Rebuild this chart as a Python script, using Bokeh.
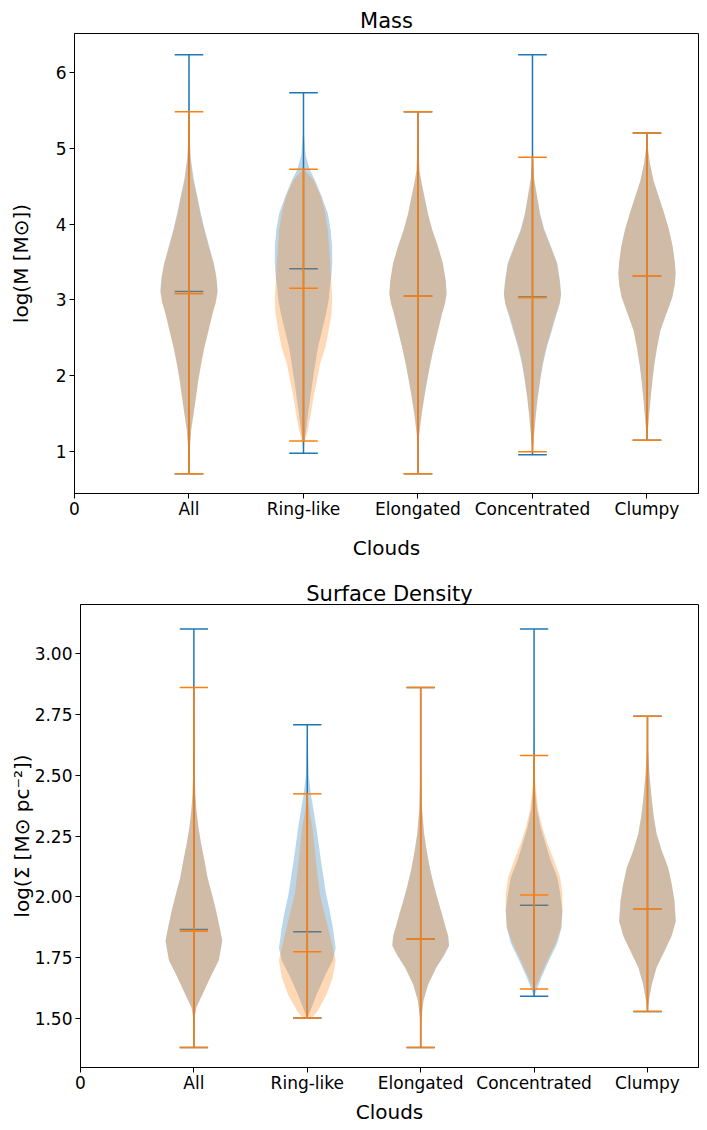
from bokeh.plotting import figure
from bokeh.models import FixedTicker, Range1d, Title
from bokeh.embed import file_html
from bokeh.resources import INLINE

# ---------------- data ----------------
categories = ["All", "Ring-like", "Elongated", "Concentrated", "Clumpy"]
x_tick_labels = ["0", "All", "Ring-like", "Elongated", "Concentrated", "Clumpy"]

# Mass panel: min / max / median per category
mass_blue_min = [0.71, 0.98, 0.71, 0.96, 1.15]
mass_blue_max = [6.23, 5.73, 5.48, 6.23, 5.20]
mass_blue_med = [3.11, 3.41, 3.05, 3.04, 3.32]
mass_orange_min = [0.71, 1.14, 0.71, 1.00, 1.15]
mass_orange_max = [5.48, 4.72, 5.48, 4.88, 5.20]
mass_orange_med = [3.08, 3.155, 3.05, 3.03, 3.32]

# Mass panel: violin outlines (value, relative half-width)
mass_blue_shape = [
    [(0.71, 0), (1.0, 0.02), (1.3, 0.08), (1.5, 0.16), (1.72, 0.24), (1.94, 0.32), (2.16, 0.42),
     (2.37, 0.53), (2.6, 0.68), (2.82, 0.82), (2.97, 0.93), (3.12, 1.0), (3.3, 0.96), (3.48, 0.87),
     (3.7, 0.71), (3.92, 0.55), (4.13, 0.42), (4.35, 0.3), (4.6, 0.16), (4.88, 0.06), (5.2, 0.015),
     (6.23, 0)],
    [(0.98, 0), (1.14, 0.04), (1.5, 0.16), (1.94, 0.32), (2.37, 0.5), (2.6, 0.65), (2.82, 0.79),
     (3.0, 0.88), (3.17, 0.92), (3.3, 0.97), (3.48, 1.0), (3.7, 1.0), (3.92, 0.95), (4.14, 0.85),
     (4.36, 0.64), (4.58, 0.4), (4.71, 0.23), (4.9, 0.08), (5.23, 0.01), (5.73, 0)],
    [(0.71, 0), (1.0, 0.01), (1.19, 0.03), (1.5, 0.13), (1.72, 0.22), (1.94, 0.32), (2.16, 0.43),
     (2.37, 0.55), (2.6, 0.7), (2.82, 0.84), (2.95, 0.94), (3.08, 1.0), (3.25, 0.97), (3.48, 0.87),
     (3.7, 0.7), (3.92, 0.5), (4.13, 0.35), (4.35, 0.23), (4.55, 0.12), (4.71, 0.05), (5.1, 0.01),
     (5.48, 0)],
    [(0.96, 0), (1.2, 0.05), (1.5, 0.12), (1.72, 0.19), (1.94, 0.27), (2.16, 0.37), (2.37, 0.5),
     (2.6, 0.68), (2.82, 0.85), (2.95, 0.95), (3.08, 1.0), (3.25, 0.96), (3.48, 0.87), (3.7, 0.65),
     (3.92, 0.42), (4.13, 0.27), (4.35, 0.17), (4.6, 0.06), (5.0, 0.01), (6.23, 0)],
    [(1.15, 0), (1.28, 0.03), (1.5, 0.08), (1.72, 0.13), (1.94, 0.19), (2.16, 0.26), (2.37, 0.35),
     (2.6, 0.47), (2.82, 0.68), (3.03, 0.88), (3.2, 0.97), (3.35, 1.0), (3.5, 0.97), (3.70, 0.9),
     (3.92, 0.77), (4.13, 0.61), (4.35, 0.42), (4.57, 0.23), (4.8, 0.1), (5.0, 0.03), (5.20, 0)],
]
mass_orange_shape = [
    [(0.71, 0), (1.0, 0.02), (1.3, 0.08), (1.5, 0.16), (1.72, 0.25), (1.94, 0.33), (2.16, 0.43),
     (2.37, 0.54), (2.6, 0.69), (2.82, 0.83), (2.96, 0.94), (3.10, 1.0), (3.3, 0.95), (3.48, 0.86),
     (3.7, 0.69), (3.92, 0.53), (4.13, 0.4), (4.35, 0.28), (4.6, 0.14), (4.85, 0.05), (5.48, 0)],
    [(1.14, 0.05), (1.28, 0.15), (1.5, 0.26), (1.72, 0.35), (1.94, 0.47), (2.16, 0.58), (2.37, 0.76),
     (2.6, 0.88), (2.82, 0.98), (3.04, 1.0), (3.48, 0.93), (3.92, 0.85), (4.14, 0.76), (4.36, 0.61),
     (4.58, 0.35), (4.72, 0)],
    [(0.71, 0), (1.0, 0.01), (1.19, 0.03), (1.5, 0.13), (1.72, 0.22), (1.94, 0.32), (2.16, 0.43),
     (2.37, 0.55), (2.6, 0.7), (2.82, 0.84), (2.95, 0.94), (3.08, 1.0), (3.25, 0.97), (3.48, 0.87),
     (3.7, 0.7), (3.92, 0.5), (4.13, 0.35), (4.35, 0.23), (4.55, 0.12), (4.71, 0.05), (5.1, 0.01),
     (5.48, 0)],
    [(1.0, 0), (1.2, 0.05), (1.5, 0.12), (1.72, 0.18), (1.94, 0.26), (2.16, 0.35), (2.37, 0.47),
     (2.6, 0.65), (2.82, 0.82), (2.94, 0.94), (3.06, 1.0), (3.25, 0.95), (3.48, 0.85), (3.7, 0.63),
     (3.92, 0.4), (4.13, 0.26), (4.35, 0.16), (4.6, 0.05), (4.88, 0)],
    [(1.15, 0), (1.28, 0.03), (1.5, 0.08), (1.72, 0.13), (1.94, 0.19), (2.16, 0.26), (2.37, 0.35),
     (2.6, 0.47), (2.82, 0.68), (3.03, 0.88), (3.2, 0.97), (3.35, 1.0), (3.5, 0.97), (3.70, 0.9),
     (3.92, 0.77), (4.13, 0.61), (4.35, 0.42), (4.57, 0.23), (4.8, 0.1), (5.0, 0.03), (5.20, 0)],
]

# Surface density panel
sd_blue_min = [1.382, 1.503, 1.382, 1.592, 1.530]
sd_blue_max = [3.099, 2.707, 2.859, 3.099, 2.741]
sd_blue_med = [1.866, 1.857, 1.827, 1.966, 1.949]
sd_orange_min = [1.382, 1.503, 1.382, 1.622, 1.530]
sd_orange_max = [2.859, 2.423, 2.859, 2.580, 2.741]
sd_orange_med = [1.859, 1.775, 1.827, 2.008, 1.949]

sd_blue_shape = [
    [(1.382, 0), (1.50, 0.02), (1.545, 0.08), (1.60, 0.3), (1.67, 0.58), (1.74, 0.88), (1.82, 1.0),
     (1.88, 0.9), (1.944, 0.78), (2.013, 0.63), (2.08, 0.48), (2.15, 0.37), (2.22, 0.25),
     (2.285, 0.16), (2.355, 0.09), (2.42, 0.05), (2.49, 0.03), (2.65, 0.01), (3.099, 0)],
    [(1.503, 0), (1.53, 0.1), (1.60, 0.33), (1.67, 0.6), (1.74, 0.9), (1.79, 1.0), (1.875, 0.9),
     (1.944, 0.79), (2.013, 0.66), (2.15, 0.48), (2.285, 0.32), (2.42, 0.13), (2.5, 0.05), (2.707, 0)],
    [(1.382, 0), (1.50, 0.02), (1.575, 0.1), (1.64, 0.26), (1.71, 0.55), (1.76, 0.82), (1.80, 1.0),
     (1.84, 0.97), (1.875, 0.88), (1.93, 0.75), (1.985, 0.61), (2.05, 0.46), (2.12, 0.32),
     (2.19, 0.21), (2.26, 0.12), (2.37, 0.04), (2.55, 0.01), (2.859, 0)],
    [(1.592, 0), (1.62, 0.1), (1.67, 0.26), (1.74, 0.53), (1.81, 0.82), (1.875, 0.97), (1.944, 1.0),
     (2.013, 0.92), (2.08, 0.82), (2.15, 0.58), (2.22, 0.4), (2.285, 0.23), (2.36, 0.1), (2.45, 0.03),
     (2.7, 0.005), (3.099, 0)],
    [(1.530, 0), (1.575, 0.05), (1.64, 0.15), (1.71, 0.32), (1.78, 0.61), (1.84, 0.85), (1.90, 1.0),
     (1.985, 0.95), (2.05, 0.86), (2.12, 0.73), (2.19, 0.5), (2.26, 0.32), (2.33, 0.22), (2.40, 0.15),
     (2.50, 0.07), (2.60, 0.02), (2.741, 0)],
]
sd_orange_shape = [
    [(1.382, 0), (1.50, 0.02), (1.545, 0.08), (1.60, 0.3), (1.67, 0.58), (1.74, 0.88), (1.82, 1.0),
     (1.88, 0.9), (1.944, 0.78), (2.013, 0.63), (2.08, 0.48), (2.15, 0.37), (2.22, 0.25),
     (2.285, 0.16), (2.355, 0.09), (2.42, 0.05), (2.49, 0.03), (2.65, 0.01), (2.859, 0)],
    [(1.503, 0.15), (1.53, 0.35), (1.60, 0.68), (1.67, 0.9), (1.74, 1.0), (1.79, 0.9), (1.875, 0.73),
     (2.013, 0.44), (2.15, 0.3), (2.285, 0.18), (2.35, 0.08), (2.423, 0)],
    [(1.382, 0), (1.50, 0.02), (1.575, 0.1), (1.64, 0.26), (1.71, 0.55), (1.76, 0.82), (1.80, 1.0),
     (1.84, 0.97), (1.875, 0.88), (1.93, 0.75), (1.985, 0.61), (2.05, 0.46), (2.12, 0.32),
     (2.19, 0.21), (2.26, 0.12), (2.37, 0.04), (2.55, 0.01), (2.859, 0)],
    [(1.622, 0), (1.63, 0.05), (1.67, 0.2), (1.74, 0.47), (1.81, 0.76), (1.875, 0.95), (1.944, 1.0),
     (2.013, 1.0), (2.08, 0.92), (2.15, 0.7), (2.22, 0.47), (2.285, 0.29), (2.36, 0.14), (2.49, 0.02),
     (2.580, 0)],
    [(1.530, 0), (1.575, 0.05), (1.64, 0.15), (1.71, 0.32), (1.78, 0.61), (1.84, 0.85), (1.90, 1.0),
     (1.985, 0.95), (2.05, 0.86), (2.12, 0.73), (2.19, 0.5), (2.26, 0.32), (2.33, 0.22), (2.40, 0.15),
     (2.50, 0.07), (2.60, 0.02), (2.741, 0)],
]

BLUE = "#1f77b4"
ORANGE = "#ff7f0e"
FONT = "DejaVu Sans"
HALF_W = 0.25   # max half-width of a violin (x units)
CAP_W = 0.125   # half-width of the cap / median lines
X_MAX = 5.45


def draw_series(p, shapes, mins, maxs, meds, color):
    positions = list(range(1, len(categories) + 1))
    for pos, shape in zip(positions, shapes):
        ys = [v for v, _ in shape]
        ws = [w for _, w in shape]
        xs = [pos + w * HALF_W for w in ws] + [pos - w * HALF_W for w in reversed(ws)]
        yy = ys + list(reversed(ys))
        p.patch(xs, yy, fill_color=color, fill_alpha=0.3, line_color=None)
    p.segment(x0=positions, y0=mins, x1=positions, y1=maxs, line_color=color, line_width=1.5)
    for vals in (mins, maxs, meds):
        p.segment(x0=[x - CAP_W for x in positions], y0=vals,
                  x1=[x + CAP_W for x in positions], y1=vals,
                  line_color=color, line_width=1.5)


def make_fig(title, ylabel, y_range, yticks, height, b_top, b_bottom, b_left, fmt,
             ylab_standoff, title_standoff):
    p = figure(width=700, height=height, output_backend="svg", toolbar_location=None,
               x_range=Range1d(0, X_MAX), y_range=Range1d(*y_range),
               min_border_left=b_left, min_border_right=2,
               min_border_top=b_top, min_border_bottom=b_bottom)
    p.title.text = title
    p.title.align = "center"
    p.title.text_font = FONT
    p.title.text_font_size = "21px"
    p.title.text_font_style = "normal"
    p.title.text_color = "black"
    p.title.standoff = title_standoff
    p.xgrid.visible = False
    p.ygrid.visible = False
    p.outline_line_color = "black"
    p.outline_line_alpha = 1
    p.outline_line_width = 1
    p.background_fill_color = "white"

    p.xaxis.ticker = FixedTicker(ticks=list(range(len(x_tick_labels))))
    p.xaxis.major_label_overrides = {i: lab for i, lab in enumerate(x_tick_labels)}
    p.yaxis.ticker = FixedTicker(ticks=yticks)
    p.yaxis.major_label_overrides = {t: fmt.format(t) for t in yticks}
    for ax in (p.xaxis[0], p.yaxis[0]):
        ax.axis_line_color = "black"
        ax.major_tick_line_color = "black"
        ax.major_tick_in = 0
        ax.major_tick_out = 5
        ax.minor_tick_line_color = None
        ax.major_label_text_font = FONT
        ax.major_label_text_font_size = "17px"
        ax.major_label_text_color = "black"
        ax.axis_label_text_font = FONT
        ax.axis_label_text_font_size = "20px"
        ax.axis_label_text_font_style = "normal"
        ax.axis_label_text_color = "black"
    p.yaxis.axis_label = ylabel
    p.xaxis.major_label_standoff = 0
    p.yaxis.major_label_standoff = 3
    p.yaxis.axis_label_standoff = ylab_standoff
    return p


p1 = make_fig("Mass", "log(M [M\u2299])", (0.45, 6.51), [1, 2, 3, 4, 5, 6],
              576, 33, 83, 74, "{:g}", 20, 2)
p1.xaxis.axis_label = "Clouds"
p1.xaxis.axis_label_standoff = 14
draw_series(p1, mass_blue_shape, mass_blue_min, mass_blue_max, mass_blue_med, BLUE)
draw_series(p1, mass_orange_shape, mass_orange_min, mass_orange_max, mass_orange_med, ORANGE)

p2 = make_fig("Surface Density", "log(\u03a3 [M\u2299 pc\u207b\u00b2])", (1.30, 3.20),
              [1.5, 1.75, 2.0, 2.25, 2.5, 2.75, 3.0], 554, 28, 63, 80, "{:.2f}", -2, -3)
p2.add_layout(Title(text="Clouds", align="center", text_font=FONT, text_font_size="20px",
                    text_font_style="normal", text_color="black", standoff=5), "below")
draw_series(p2, sd_blue_shape, sd_blue_min, sd_blue_max, sd_blue_med, BLUE)
draw_series(p2, sd_orange_shape, sd_orange_min, sd_orange_max, sd_orange_med, ORANGE)

# two independent roots, stacked vertically (keeps each panel's own frame position)
open("out.html", "w").write(file_html([p1, p2], INLINE))
